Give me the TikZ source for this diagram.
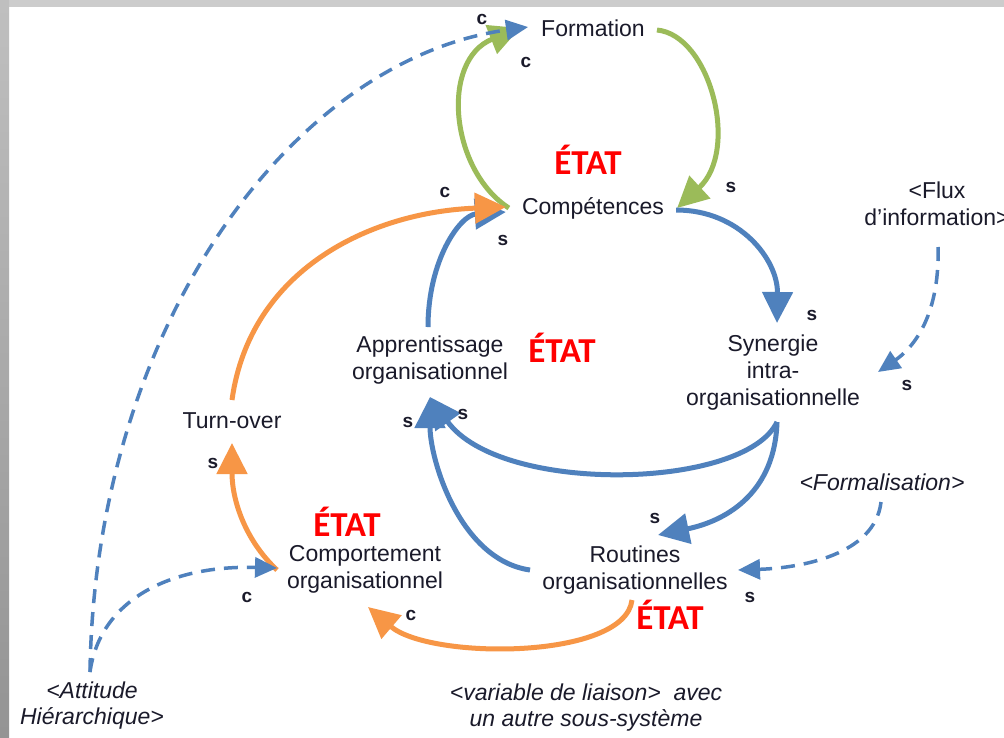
\documentclass[tikz,border=0pt]{standalone}
\usepackage{fontspec}
\setmainfont{Liberation Sans}
\newfontfamily\etatfont{Carlito}
\usetikzlibrary{arrows.meta,calc}
\definecolor{gr}{HTML}{9BBB59}
\definecolor{bl}{HTML}{4F81BD}
\definecolor{orr}{HTML}{F79646}
\definecolor{txt}{HTML}{1A1A2A}
\begin{document}
\begin{tikzpicture}[x=1pt,y=-1pt,
  lbl/.style={font=\fontsize{23}{27}\selectfont, text=txt, align=center, inner sep=1pt},
  extlbl/.style={font=\itshape\fontsize{23}{26}\selectfont, text=txt, align=center, inner sep=1pt},
  etat/.style={font=\etatfont\bfseries\fontsize{35}{35}\selectfont, text=red, inner sep=0pt},
  pol/.style={font=\bfseries\fontsize{19}{19}\selectfont, text=txt, inner sep=0pt},
  flow/.style={line width=5pt, -{Triangle[length=31pt,width=30pt]}},
  infl/.style={bl, line width=3.5pt, dash pattern=on 14pt off 9pt, -{Triangle[length=22pt,width=20pt]}}]
\useasboundingbox (0,0) rectangle (1004,737);
\clip (0,0) rectangle (1004,737);
\fill[white] (0,0) rectangle (1004,737);
\fill[black!20] (0,0) rectangle (1004,7);
\shade[top color=black!25, bottom color=black!42] (0,0) rectangle (9,737);

% nodes
\node[lbl] (form) at (593,28) {Formation};
\node[lbl] (comp) at (593,208) {Compétences};
\node[lbl] (syn) at (773,373) {Synergie\\intra-\\organisationnelle};
\node[lbl] (appr) at (430,360) {Apprentissage\\organisationnel};
\node[lbl] (turn) at (232,421) {Turn-over};
\node[lbl] (cmpt) at (365,569) {Comportement\\organisationnel};
\node[lbl] (rout) at (635,570) {Routines\\organisationnelles};
\node[lbl] (flux) at (937,204) {<Flux\\d'information>};
\node[extlbl] (formal) at (882,482) {<Formalisation>};
\node[extlbl] (att) at (92,706) {<Attitude\\Hiérarchique>};
\node[extlbl] (var) at (586,708) {<variable de liaison>\ \ avec\\un autre sous-système};

\node[etat] (e1) at (588,160) {ÉTAT};
\node[etat] (e2) at (562,348) {ÉTAT};
\node[etat] (e3) at (347,522) {ÉTAT};
\node[etat] (e4) at (670,615) {ÉTAT};

% connectors
\draw[flow, gr] ($(form.east)+(11,2)$) .. controls (710,35) and (740,150) .. ($(comp.east)+(12,0)$);
\draw[flow, gr] ($(comp.west)+(-12,0)$) .. controls (450,170) and (440,60) .. ($(form.west)+(-20,0)$);
\draw[flow, bl] ($(comp.east)+(11,2)$) .. controls (740,210) and (778,260) .. ($(syn)+(4,-50)$);
\draw[flow, bl] ($(appr)+(-2,-33)$) .. controls (428,260) and (460,215) .. ($(comp.west)+(-15,4)$);
\draw[flow, orr] ($(turn)+(0,-21)$) .. controls (250,270) and (370,212) .. ($(comp.west)+(-15,-1)$);
\draw[flow, orr] ($(cmpt)+(-88,1)$) .. controls (245,540) and (232,500) .. ($(turn)+(0,22)$);
\draw[flow, bl] ($(syn)+(4,49)$) .. controls (745,490) and (500,495) .. ($(appr)+(0,37)$);
\draw[flow, bl] ($(rout)+(-105,0)$) .. controls (460,560) and (430,460) .. ($(appr)+(0,37)$);
\draw[flow, bl] ($(syn)+(4,49)$) .. controls (775,490) and (730,520) .. ($(rout)+(23,-35)$);
\draw[flow, orr] ($(rout)+(-3,30)$) .. controls (625,660) and (430,660) .. ($(cmpt)+(3,38)$);

\draw[infl] ($(att)+(-2,-34)$) .. controls (95,330) and (290,60) .. ($(form.west)+(-12,-1)$);
\draw[infl] ($(att)+(-2,-34)$) .. controls (100,600) and (170,565) .. ($(cmpt)+(-88,-1)$);
\draw[infl] ($(flux)+(1,43)$) .. controls (940,320) and (910,350) .. ($(syn)+(105,-1)$);
\draw[infl] ($(formal)+(-1,20)$) .. controls (875,555) and (800,568) .. ($(rout)+(103,0)$);

% polarity labels
\node[pol] (p1) at (482,19) {c};
\node[pol] (p2) at (526,62) {c};
\node[pol] (p3) at (731,187) {s};
\node[pol] (p4) at (445,192) {c};
\node[pol] (p5) at (503,240) {s};
\node[pol] (p6) at (812,315) {s};
\node[pol] (p7) at (907,385) {s};
\node[pol] (p8) at (408,422) {s};
\node[pol] (p9) at (463,414) {s};
\node[pol] (p10) at (213,463) {s};
\node[pol] (p11) at (247,597) {c};
\node[pol] (p12) at (655,518) {s};
\node[pol] (p13) at (750,597) {s};
\node[pol] (p14) at (411,615) {c};
\end{tikzpicture}
\end{document}
